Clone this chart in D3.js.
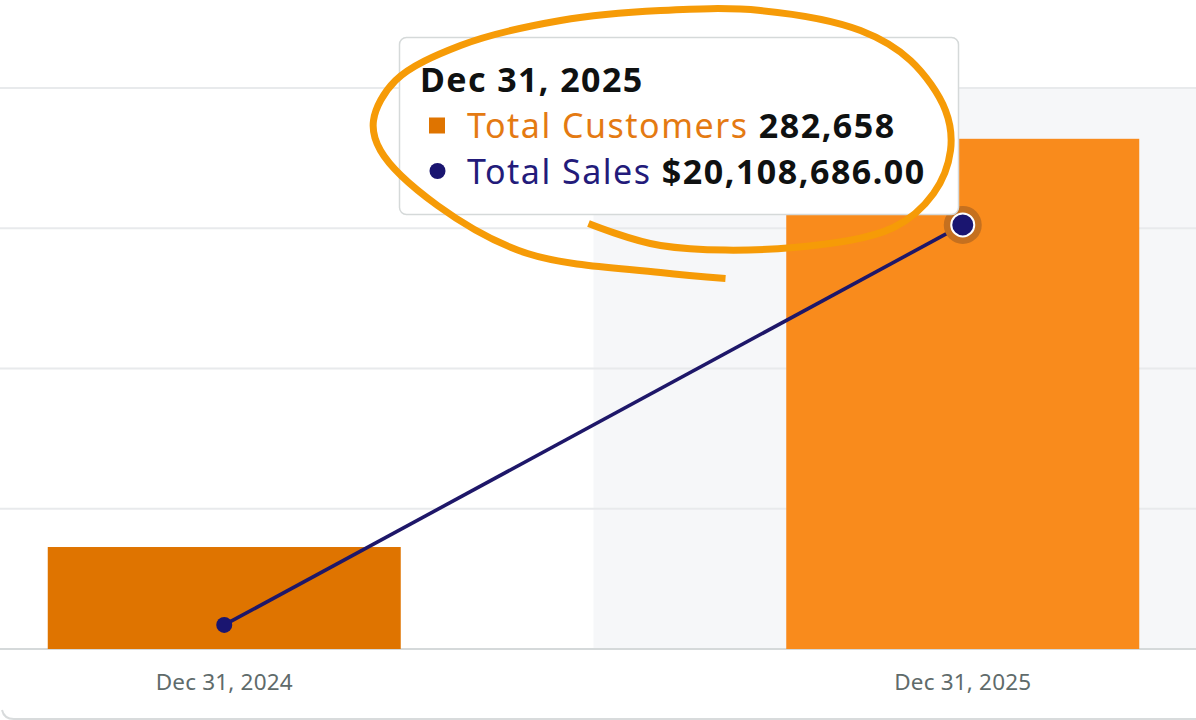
<!DOCTYPE html>
<html>
<head>
<meta charset="utf-8">
<script src="https://cdn.jsdelivr.net/npm/d3@7"></script>
<style>
  html, body { margin: 0; padding: 0; background: #ffffff; }
  svg { display: block; }
</style>
</head>
<body>
<svg id="chart" width="1196" height="720"></svg>
<script>
// ---- data ----
const categories = ["Dec 31, 2024", "Dec 31, 2025"];
const totalCustomers = [56500, 282658];
const totalSales = [1140000, 20108686];
const customerTicks = [0, 77700, 155400, 233100, 310800];
const salesMax = 26600000;
const hoverIndex = 1;
const tooltipTitle = "Dec 31, 2025";
const seriesNames = ["Total Customers", "Total Sales"];

// ---- setup ----
const W = 1196, H = 720;
const svg = d3.select("#chart");
const font = "'Noto Sans', 'Open Sans', sans-serif";

const x = d3.scaleBand().domain(categories).range([-145, 1332]).padding(0);
const barFrac = 0.478;
const yC = d3.scaleLinear().domain([0, customerTicks[customerTicks.length - 1]]).range([649, 88]);
const yS = d3.scaleLinear().domain([0, salesMax]).range([649, 88]);

// hover band
svg.append("rect")
  .attr("x", x(categories[hoverIndex]))
  .attr("y", yC.range()[1])
  .attr("width", x.bandwidth())
  .attr("height", yC.range()[0] - yC.range()[1])
  .attr("fill", "#f6f7f9");

// gridlines
svg.append("g").selectAll("line")
  .data(customerTicks)
  .join("line")
  .attr("x1", 0).attr("x2", W)
  .attr("y1", d => yC(d)).attr("y2", d => yC(d))
  .attr("stroke", d => d === 0 ? "#d5d9da" : "#e8eaec")
  .attr("stroke-width", 2);

// bars
const barW = x.bandwidth() * barFrac;
svg.append("g").selectAll("rect")
  .data(categories)
  .join("rect")
  .attr("x", d => x(d) + (x.bandwidth() - barW) / 2)
  .attr("width", barW)
  .attr("y", (d, i) => yC(totalCustomers[i]))
  .attr("height", (d, i) => yC(0) - yC(totalCustomers[i]))
  .attr("fill", (d, i) => i === hoverIndex ? "#f98b1c" : "#df7400");

// x axis labels
const xAxis = d3.axisBottom(x).tickSize(0).tickPadding(0);
const gx = svg.append("g").attr("transform", "translate(0,649)").call(xAxis);
gx.select(".domain").remove();
gx.selectAll("text")
  .attr("y", 41).attr("dy", 0)
  .attr("font-family", font).attr("font-size", 22.5)
  .attr("letter-spacing", 0.2)
  .attr("fill", "#5f6b6b");

// sales line
const cx = d => x(d) + x.bandwidth() / 2;
svg.append("path")
  .datum(categories)
  .attr("d", d3.line().x(d => cx(d)).y(d => yS(totalSales[categories.indexOf(d)])))
  .attr("fill", "none")
  .attr("stroke", "#1e1769")
  .attr("stroke-width", 3.6);

// points
categories.forEach((c, i) => {
  if (i === hoverIndex) {
    svg.append("circle").attr("cx", cx(c)).attr("cy", yS(totalSales[i])).attr("r", 19).attr("fill", "#c5701f");
    svg.append("circle").attr("cx", cx(c)).attr("cy", yS(totalSales[i])).attr("r", 11.5)
      .attr("fill", "#1a1570").attr("stroke", "#ffffff").attr("stroke-width", 2);
  } else {
    svg.append("circle").attr("cx", cx(c)).attr("cy", yS(totalSales[i])).attr("r", 8).attr("fill", "#1a1570");
  }
});

// tooltip
const tt = svg.append("g").attr("transform", "translate(399.5,37.5)");
tt.append("rect").attr("width", 559).attr("height", 177).attr("rx", 7)
  .attr("fill", "#ffffff").attr("stroke", "#d5d9d9").attr("stroke-width", 1.5);
tt.append("text").attr("x", 20.5).attr("y", 54.5)
  .attr("font-family", font).attr("font-weight", 700).attr("font-size", 34)
  .attr("letter-spacing", 1.4)
  .attr("fill", "#0f1111").text(tooltipTitle);
tt.append("rect").attr("x", 29.5).attr("y", 80).attr("width", 16).attr("height", 16).attr("fill", "#df7400");
const t1 = tt.append("text").attr("x", 67.5).attr("y", 100)
  .attr("font-family", font).attr("font-size", 34).attr("letter-spacing", 1.5);
t1.append("tspan").attr("fill", "#e47a12").text(seriesNames[0]);
t1.append("tspan").attr("fill", "#0f1111").attr("font-weight", 700).text(" " + d3.format(",")(totalCustomers[hoverIndex]));
tt.append("circle").attr("cx", 38).attr("cy", 133.5).attr("r", 8).attr("fill", "#1a1570");
const t2 = tt.append("text").attr("x", 67.5).attr("y", 146)
  .attr("font-family", font).attr("font-size", 34).attr("letter-spacing", 1.5);
t2.append("tspan").attr("fill", "#231b7a").text(seriesNames[1]);
t2.append("tspan").attr("fill", "#0f1111").attr("font-weight", 700).text(" " + d3.format("$,.2f")(totalSales[hoverIndex]));

// hand-drawn highlight ellipse around tooltip (relative to tooltip box)
const bx = 399.5, by = 37.5;
const loop = [
  [326, 241], [261, 235], [128, 216], [38, 168], [-19, 113], [-26, 83], [-4, 43],
  [61, 8], [161, -17], [261, -27], [361, -27], [461, -7], [511, 23], [546, 73],
  [551, 113], [534, 156], [494, 190], [394, 210], [261, 208], [189, 186]
].map(p => [p[0] + bx, p[1] + by]);
svg.append("path")
  .attr("d", d3.line().curve(d3.curveCatmullRom.alpha(0.5))(loop))
  .attr("fill", "none")
  .attr("stroke", "#f69b07")
  .attr("stroke-width", 7);

// card bottom border
svg.append("path")
  .attr("d", "M2,710 Q4,719 14,719 L1196,719")
  .attr("fill", "none").attr("stroke", "#d8dbdc").attr("stroke-width", 2);
</script>
</body>
</html>
